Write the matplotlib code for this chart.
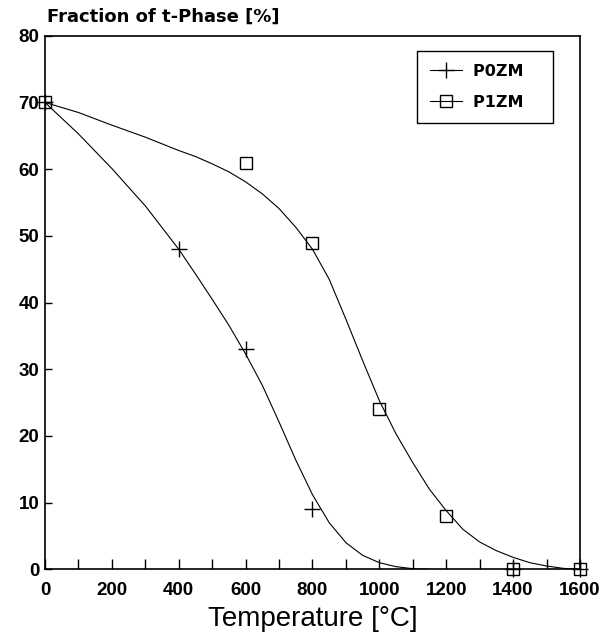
import matplotlib
matplotlib.use("Agg")
import matplotlib.pyplot as plt
from matplotlib.lines import Line2D
from matplotlib.ticker import MultipleLocator

# measured points
p0zm_temp = [0, 400, 600, 800, 1400, 1600]
p0zm_frac = [70, 48, 33, 9, 0, 0]
p1zm_temp = [0, 600, 800, 1000, 1200, 1400, 1600]
p1zm_frac = [70, 61, 49, 24, 8, 0, 0]

# fitted curves
p0zm_fit_temp = [0, 100, 200, 300, 400, 450, 500, 550, 600, 650, 700, 750,
                 800, 850, 900, 950, 1000, 1050, 1100, 1150]
p0zm_fit_frac = [70, 65.3, 60.1, 54.5, 48.0, 44.3, 40.5, 36.6, 32.3, 27.6, 22.1, 16.4,
                 11.2, 7.0, 4.0, 2.1, 1.0, 0.4, 0.1, 0.0]
p1zm_fit_temp = [0, 100, 200, 300, 400, 450, 500, 550, 600, 650, 700, 750, 800, 850, 900,
                 950, 1000, 1050, 1100, 1150, 1200, 1250, 1300, 1350, 1400, 1450,
                 1500, 1550, 1600]
p1zm_fit_frac = [70, 68.5, 66.6, 64.8, 62.8, 61.9, 60.8, 59.6, 58.1, 56.3, 54.1, 51.3, 48.0,
                 43.5, 37.5, 31.3, 25.3, 20.3, 16.0, 12.0, 8.8, 6.0, 4.1, 2.8, 1.8, 1.0,
                 0.5, 0.15, 0.0]

series_labels = ["P0ZM", "P1ZM"]
x_ticks = [0, 200, 400, 600, 800, 1000, 1200, 1400, 1600]
y_ticks = [0, 10, 20, 30, 40, 50, 60, 70, 80]

bold = {"family": "Liberation Sans", "weight": "bold"}

fig = plt.figure(figsize=(6.11, 6.39), dpi=100)
ax = fig.add_axes([0.0736, 0.109, 0.8756, 0.835])

ax.plot(p0zm_fit_temp, p0zm_fit_frac, color="black", lw=0.8)
ax.plot(p1zm_fit_temp, p1zm_fit_frac, color="black", lw=0.8)
ax.plot(p0zm_temp, p0zm_frac, ls="none", marker="+", ms=12, mew=1.0, color="black",
        clip_on=False, zorder=3)
ax.plot(p1zm_temp, p1zm_frac, ls="none", marker="s", ms=9, mew=1.0, mfc="none",
        mec="black", clip_on=False, zorder=3)

ax.set_xlim(0, 1600)
ax.set_ylim(0, 80)
ax.set_xticks(x_ticks)
ax.set_yticks(y_ticks)
ax.xaxis.set_minor_locator(MultipleLocator(100))
ax.tick_params(axis="both", which="both", direction="in", color="black")
ax.tick_params(axis="x", which="major", length=7, width=1, pad=9)
ax.tick_params(axis="x", which="minor", length=7, width=1)
ax.tick_params(axis="y", which="major", length=5, width=1, pad=4)
for lab in ax.get_xticklabels() + ax.get_yticklabels():
    lab.set_fontproperties(bold)
    lab.set_fontsize(13.5)
for sp in ax.spines.values():
    sp.set_linewidth(1.2)
    sp.set_color("black")

ax.set_xlabel("Temperature [°C]", fontsize=20, family="Liberation Sans", labelpad=5)
fig.text(0.077, 0.973, "Fraction of t-Phase [%]", fontsize=13, ha="left", va="center",
         family="DejaVu Sans", weight="bold")

handles = [
    Line2D([], [], color="black", lw=0.8, marker="+", ms=12, mew=1.0),
    Line2D([], [], color="black", lw=0.8, marker="s", ms=9, mew=1.0, mfc="none"),
]
leg = ax.legend(handles, [s + "   " for s in series_labels], loc="upper right",
                bbox_to_anchor=(0.9495, 0.9713), borderaxespad=0, numpoints=1,
                handlelength=2.0, labelspacing=1.0, borderpad=0.8, handletextpad=0.7,
                fancybox=False, framealpha=1, edgecolor="black",
                prop={"family": "DejaVu Sans", "weight": "bold", "size": 11.5})
leg.get_frame().set_linewidth(1.0)

fig.savefig("out.png", dpi=100)
